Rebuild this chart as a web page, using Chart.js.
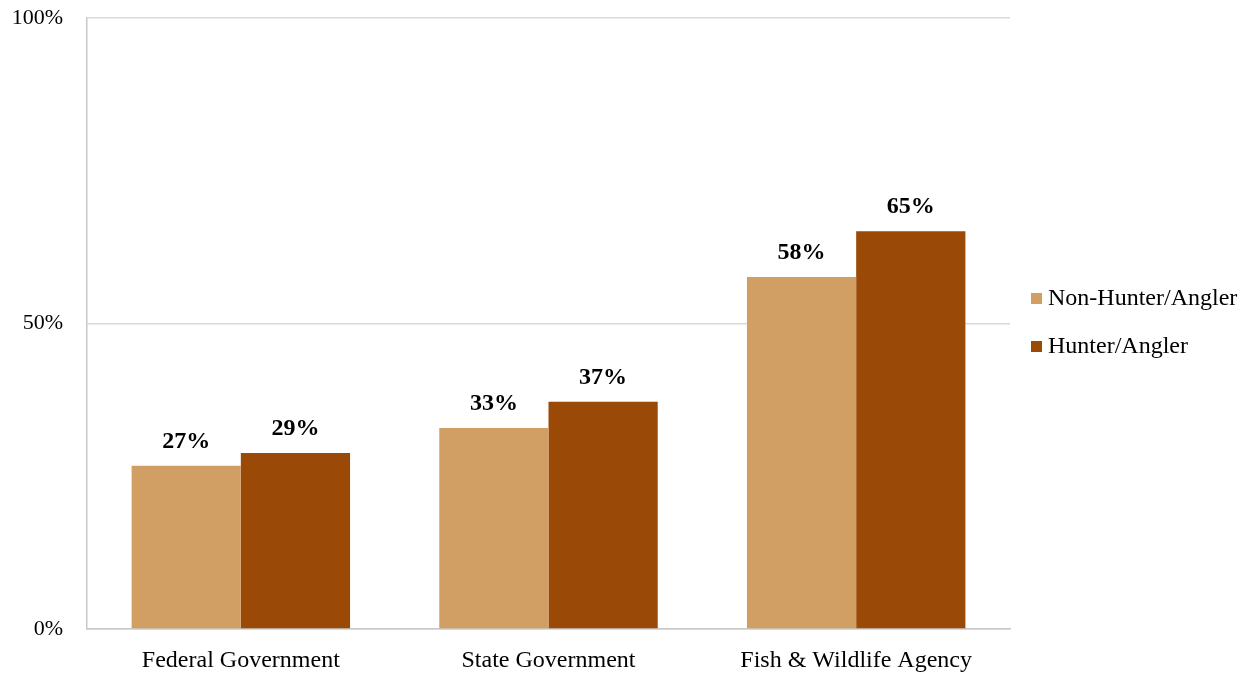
<!DOCTYPE html>
<html>
<head>
<meta charset="utf-8">
<script src="https://cdn.jsdelivr.net/npm/chart.js@4/dist/chart.umd.min.js"></script>
<style>
  body { margin: 0; background: #fff; }
  #wrap { width: 1252px; height: 673px; }
</style>
</head>
<body>
<div id="wrap"><canvas id="myChart" width="1252" height="673"></canvas></div>
<script>
// Data
const categories = ['Federal Government', 'State Government', 'Fish & Wildlife Agency'];
const nonHunter = [26.7, 32.9, 57.6];
const hunter = [28.8, 37.2, 65.1];
const nonHunterLabels = ['27%', '33%', '58%'];
const hunterLabels = ['29%', '37%', '65%'];
const seriesNames = ['Non-Hunter/Angler', 'Hunter/Angler'];

const FONT = '"Liberation Serif", "Times New Roman", serif';

// value labels above bars
const valueLabels = {
    id: 'valueLabels',
    afterDatasetsDraw(chart) {
        const ctx = chart.ctx;
        const texts = [nonHunterLabels, hunterLabels];
        ctx.save();
        ctx.font = 'bold 24px ' + FONT;
        ctx.fillStyle = '#000';
        ctx.textAlign = 'center';
        ctx.textBaseline = 'middle';
        chart.data.datasets.forEach((ds, i) => {
            chart.getDatasetMeta(i).data.forEach((bar, j) => {
                ctx.fillText(texts[i][j], bar.x, bar.y - 24);
            });
        });
        ctx.restore();
    }
};

// legend on the right
const sideLegend = {
    id: 'sideLegend',
    afterDraw(chart) {
        const ctx = chart.ctx;
        ctx.save();
        ctx.font = '24px ' + FONT;
        ctx.textBaseline = 'middle';
        chart.data.datasets.forEach((ds, i) => {
            const y = 298 + i * 48;
            ctx.fillStyle = ds.backgroundColor;
            ctx.fillRect(1031, y - 5, 11, 11);
            ctx.fillStyle = '#000';
            ctx.fillText(ds.label, 1048, y + 1);
        });
        ctx.restore();
    }
};

const ctx = document.getElementById('myChart').getContext('2d');

new Chart(ctx, {
    type: 'bar',
    data: {
        labels: categories,
        datasets: [
            {
                label: seriesNames[0],
                data: nonHunter,
                backgroundColor: '#D19F63'
            },
            {
                label: seriesNames[1],
                data: hunter,
                backgroundColor: '#9A4906'
            }
        ]
    },
    options: {
        responsive: false,
        animation: false,
        layout: {
            padding: { left: 12, right: 242, top: 18, bottom: 0 }
        },
        datasets: {
            bar: { categoryPercentage: 0.71, barPercentage: 1.0 }
        },
        plugins: {
            legend: { display: false },
            tooltip: { enabled: false }
        },
        scales: {
            x: {
                grid: { display: false },
                border: { color: '#c8c8c8', width: 1.5 },
                ticks: {
                    color: '#000',
                    font: { family: FONT, size: 24 },
                    padding: 9
                },
                afterFit(scale) {
                    scale.height = 44;
                    scale.paddingLeft = 0;
                    scale.paddingRight = 0;
                }
            },
            y: {
                min: 0,
                max: 100,
                grid: { color: '#d9d9d9', lineWidth: 1.5, drawTicks: false },
                border: { color: '#c8c8c8', width: 1.5 },
                ticks: {
                    stepSize: 50,
                    color: '#000',
                    font: { family: FONT, size: 22 },
                    padding: 24,
                    callback: v => v + '%'
                },
                afterFit(scale) {
                    scale.width = 75;
                    scale.paddingTop = 0;
                    scale.paddingBottom = 0;
                }
            }
        }
    },
    plugins: [valueLabels, sideLegend]
});
</script>
</body>
</html>
